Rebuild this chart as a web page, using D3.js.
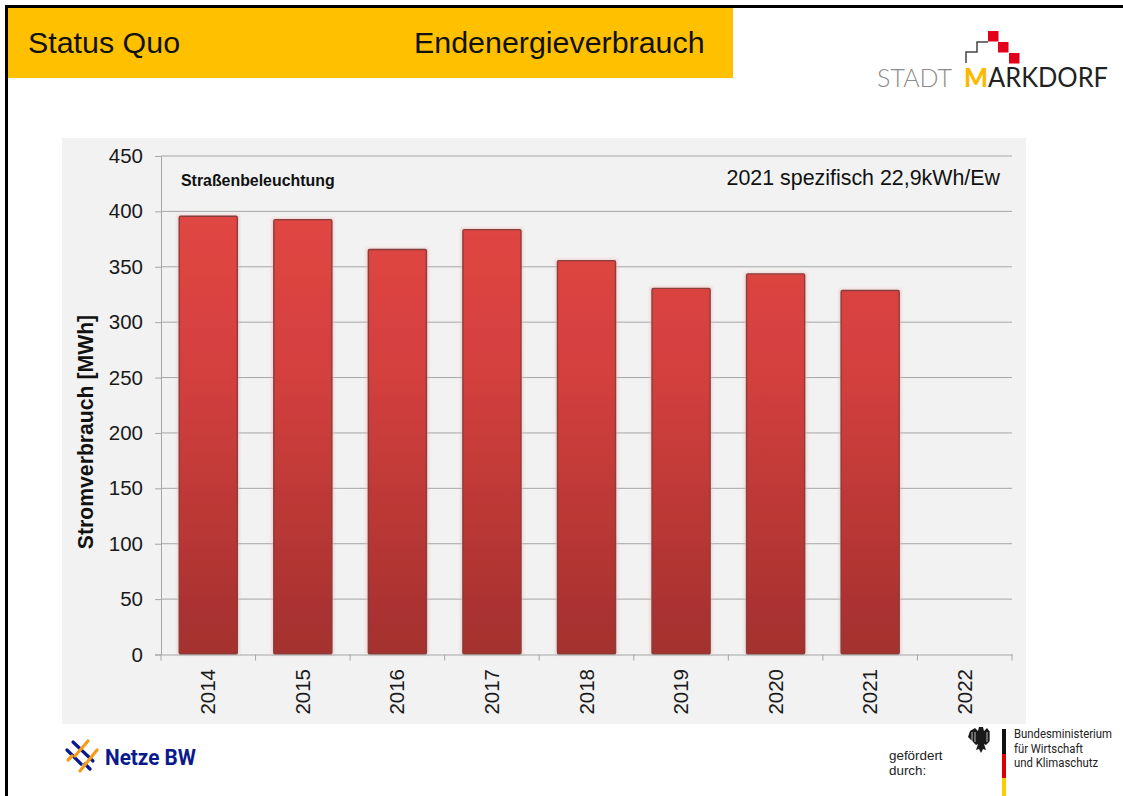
<!DOCTYPE html>
<html>
<head>
<meta charset="utf-8">
<script src="https://cdn.jsdelivr.net/npm/d3@7"></script>
<style>
html, body { margin: 0; padding: 0; background: #fff; }
svg { display: block; }
text { font-family: "Liberation Sans", Arial, sans-serif; }
</style>
</head>
<body>
<div id="chart"></div>
<script>
// chart values
var years = ["2014", "2015", "2016", "2017", "2018", "2019", "2020", "2021", "2022"];
var consumption = [396, 393, 366, 384, 356, 331, 344, 329, null];
var yTicks = [0, 50, 100, 150, 200, 250, 300, 350, 400, 450];

var width = 1123,
	height = 796,
	plot = {left: 161, right: 1012, top: 156, bottom: 654.5};

var svg = d3.select("#chart").append("svg")
	.attr("width", width)
	.attr("height", height);

var defs = svg.append("defs");
var grad = defs.append("linearGradient")
	.attr("id", "barFill")
	.attr("gradientUnits", "userSpaceOnUse")
	.attr("x1", 0).attr("x2", 0)
	.attr("y1", 216).attr("y2", plot.bottom);
grad.append("stop").attr("offset", "0%").attr("stop-color", "#e04643");
grad.append("stop").attr("offset", "35%").attr("stop-color", "#d4403e");
grad.append("stop").attr("offset", "100%").attr("stop-color", "#a3302e");
defs.append("filter").attr("id", "soft")
	.append("feGaussianBlur").attr("stdDeviation", 0.5);
defs.append("filter").attr("id", "halo")
	.append("feGaussianBlur").attr("stdDeviation", 1.5);

// slide frame and header
svg.append("rect").attr("x", 5).attr("y", 5).attr("width", width).attr("height", 3).attr("fill", "#000");
svg.append("rect").attr("x", 5).attr("y", 5).attr("width", 3).attr("height", height).attr("fill", "#000");
svg.append("rect").attr("x", 8).attr("y", 8).attr("width", 725).attr("height", 70).attr("fill", "#ffc000");
svg.append("text").attr("x", 28).attr("y", 53).attr("font-size", 30.4).attr("fill", "#111").text("Status Quo");
svg.append("text").attr("x", 414).attr("y", 53).attr("font-size", 30.4).attr("fill", "#111").text("Endenergieverbrauch");

// chart panel
svg.append("rect").attr("x", 62).attr("y", 138).attr("width", 964).attr("height", 586).attr("fill", "#f2f2f2");

var x = d3.scaleBand().domain(years).range([plot.left, plot.right]).paddingInner(0.375).paddingOuter(0.1875);
var y = d3.scaleLinear().domain([0, 450]).range([plot.bottom, plot.top]);

// gridlines
svg.append("g").selectAll("line")
	.data(yTicks.filter(function(d) {return d > 0;}))
	.enter().append("line")
		.attr("x1", plot.left)
		.attr("x2", plot.right)
		.attr("y1", function(d) {return y(d);})
		.attr("y2", function(d) {return y(d);})
		.attr("stroke", "#a6a6a6")
		.attr("stroke-width", 1);

var barData = years.map(function(d, i) {return {year: d, value: consumption[i]};})
	.filter(function(d) {return d.value !== null;});

// soft halo behind each bar
svg.selectAll(".halo")
	.data(barData)
	.enter().append("rect")
		.attr("class", "halo")
		.attr("x", function(d) {return x(d.year) - 1.5;})
		.attr("y", function(d) {return y(d.value) - 1;})
		.attr("width", x.bandwidth() + 3)
		.attr("height", function(d) {return y(0) - y(d.value) + 1;})
		.attr("fill", "#f0b4b4")
		.attr("opacity", 0.6)
		.attr("filter", "url(#halo)");

// bars
svg.selectAll(".bar")
	.data(barData)
	.enter().append("rect")
		.attr("class", "bar")
		.attr("x", function(d) {return x(d.year) + 0.5;})
		.attr("y", function(d) {return y(d.value) + 0.5;})
		.attr("width", x.bandwidth() - 1)
		.attr("height", function(d) {return y(0) - y(d.value) - 1;})
		.attr("rx", 1.5)
		.attr("fill", "url(#barFill)")
		.attr("stroke", "#853f3d")
		.attr("stroke-width", 1.4)
		.attr("filter", "url(#soft)");

// axes
var yAxis = svg.append("g")
	.attr("transform", "translate(" + plot.left + ",0)")
	.call(d3.axisLeft(y).tickValues(yTicks).tickSize(6).tickPadding(12));
yAxis.selectAll("text").attr("font-size", 20.5).attr("fill", "#1a1a1a").style("font-family", '"Liberation Sans", Arial, sans-serif');
yAxis.selectAll("line, path").attr("stroke", "#a6a6a6");

var xAxis = svg.append("g")
	.attr("transform", "translate(0," + plot.bottom + ")")
	.call(d3.axisBottom(x).tickSize(0).tickFormat(""));
xAxis.select("path").attr("stroke", "#a6a6a6");
xAxis.selectAll(".tick").remove();

// tick marks sit between the categories
var step = x.step();
svg.append("g").selectAll("line")
	.data(years.concat(["end"]))
	.enter().append("line")
		.attr("x1", function(d, i) {return plot.left + i * step;})
		.attr("x2", function(d, i) {return plot.left + i * step;})
		.attr("y1", plot.bottom)
		.attr("y2", plot.bottom + 6)
		.attr("stroke", "#a6a6a6");

svg.append("g").selectAll("text")
	.data(years)
	.enter().append("text")
		.attr("transform", function(d) {return "translate(" + (x(d) + x.bandwidth() / 2 + 7) + ",669) rotate(-90)";})
		.attr("text-anchor", "end")
		.attr("font-size", 20.5)
		.attr("fill", "#1a1a1a")
		.text(function(d) {return d;});

svg.append("text")
	.attr("transform", "translate(93,432) rotate(-90)")
	.attr("text-anchor", "middle")
	.attr("font-size", 21.2)
	.attr("font-weight", "bold")
	.attr("fill", "#111")
	.text("Stromverbrauch [MWh]");

svg.append("text").attr("x", 181).attr("y", 186).attr("font-size", 15.9).attr("font-weight", "bold").attr("fill", "#111").text("Straßenbeleuchtung");
svg.append("text").attr("x", 1000).attr("y", 185).attr("text-anchor", "end").attr("font-size", 21.4).attr("fill", "#111").text("2021 spezifisch 22,9kWh/Ew");

// Stadt Markdorf logo
var logo = svg.append("g");
logo.append("path")
	.attr("d", "M966,63V52H977V42H988")
	.attr("fill", "none").attr("stroke", "#444").attr("stroke-width", 1.5);
[[988, 31], [998, 42], [1009, 53]].forEach(function(p) {
	logo.append("rect").attr("x", p[0]).attr("y", p[1]).attr("width", 10.5).attr("height", 10.5).attr("fill", "#e2001a");
});
logo.append("text").attr("x", 877).attr("y", 87).attr("font-size", 26).attr("font-weight", 300).attr("fill", "#8c8c8c")
	.attr("textLength", 75).attr("lengthAdjust", "spacingAndGlyphs").style("font-family", "Lato").text("STADT");
logo.append("text").attr("x", 964).attr("y", 87).attr("font-size", 26).attr("font-weight", 900).attr("fill", "#fbb900")
	.attr("textLength", 24).attr("lengthAdjust", "spacingAndGlyphs").style("font-family", "Lato").text("M");
logo.append("text").attr("x", 988).attr("y", 87).attr("font-size", 26).attr("fill", "#222")
	.attr("textLength", 120).attr("lengthAdjust", "spacingAndGlyphs").style("font-family", "Lato").text("ARKDORF");

// Netze BW logo
var netze = svg.append("g");
[[67, 750, 81, 764, "#0a1a8c"], [73, 742, 93, 761, "#0a1a8c"], [85, 764, 90, 769, "#0a1a8c"],
 [88, 741, 75, 756, "#f59c1a"], [97, 750, 80, 771, "#f59c1a"], [68, 760, 72, 756, "#f59c1a"]].forEach(function(s) {
	netze.append("line")
		.attr("x1", s[0]).attr("y1", s[1])
		.attr("x2", s[2]).attr("y2", s[3])
		.attr("stroke", s[4]).attr("stroke-width", 3.2).attr("stroke-linecap", "round");
});
netze.append("text").attr("x", 105).attr("y", 765).attr("font-size", 22.5).attr("font-weight", 700).attr("fill", "#0a1a8c")
	.attr("textLength", 91).attr("lengthAdjust", "spacingAndGlyphs").style("font-family", "Roboto").text("Netze BW");

// Funding note
svg.append("text").attr("x", 889).attr("y", 760).attr("font-size", 13.4).attr("fill", "#222").text("gefördert");
svg.append("text").attr("x", 889).attr("y", 775).attr("font-size", 13.4).attr("fill", "#222").text("durch:");

// federal eagle, roughly
var eagle = svg.append("g").attr("fill", "#1a1a1a");
eagle.append("path")
	.attr("d", "M979,727 L983,727 L984,731 L987,728 L990,732 L990,741 L986,745 L984,744 L986,750 L983,749 L981,753 L979,749 L976,750 L978,744 L976,745 L972,741 L968,737 L970,731 L975,728 L978,731 Z");
[972, 975, 987, 990].forEach(function(px) {
	eagle.append("line")
		.attr("x1", px).attr("x2", px)
		.attr("y1", 732).attr("y2", 742)
		.attr("stroke", "#fff").attr("stroke-width", 0.7);
});

svg.append("rect").attr("x", 1002).attr("y", 729).attr("width", 4).attr("height", 25).attr("fill", "#111");
svg.append("rect").attr("x", 1002).attr("y", 754).attr("width", 4).attr("height", 24).attr("fill", "#d00");
svg.append("rect").attr("x", 1002).attr("y", 778).attr("width", 4).attr("height", 18).attr("fill", "#fc0");

[["Bundesministerium", 98], ["für Wirtschaft", 69], ["und Klimaschutz", 84]].forEach(function(t, i) {
	svg.append("text")
		.attr("x", 1014)
		.attr("y", 738 + i * 14.5)
		.attr("font-size", 12)
		.attr("fill", "#222")
		.attr("textLength", t[1])
		.attr("lengthAdjust", "spacingAndGlyphs")
		.style("font-family", "Roboto")
		.text(t[0]);
});
</script>
</body>
</html>
